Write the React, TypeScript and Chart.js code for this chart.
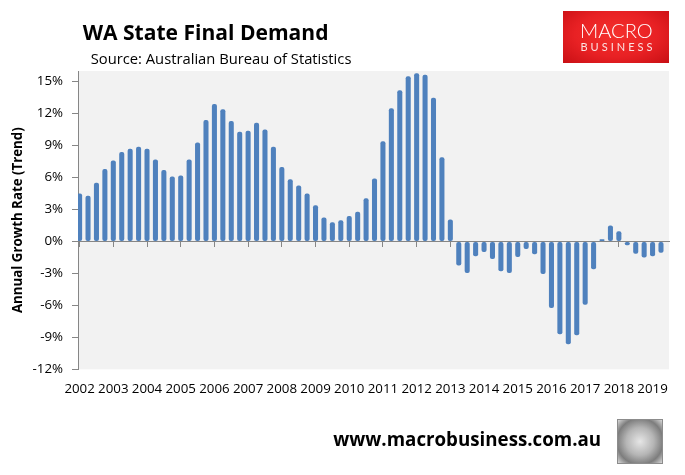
import React, { useEffect, useRef } from 'react';
import { Chart, registerables } from 'chart.js';

Chart.register(...registerables);

// ---------- data ----------
const yearLabels = [
  '2002', '2003', '2004', '2005', '2006', '2007', '2008', '2009', '2010',
  '2011', '2012', '2013', '2014', '2015', '2016', '2017', '2018', '2019',
];

// Annual growth rate (trend), quarterly, Q1 2002 .. Q2 2019
const growthValues = [
  4.5, 4.3, 5.5, 6.8, 7.6, 8.4, 8.7, 8.9, 8.7, 7.7,
  6.7, 6.1, 6.2, 7.7, 9.3, 11.4, 12.9, 12.4, 11.3, 10.3,
  10.4, 11.15, 10.5, 8.9, 7.0, 5.85, 5.25, 4.5, 3.4, 2.25,
  1.8, 2.0, 2.4, 2.8, 4.05, 5.9, 9.4, 12.5, 14.2, 15.5,
  15.8, 15.65, 13.5, 7.9, 2.05, -2.25, -2.95, -1.4, -1.0, -1.65,
  -2.8, -2.95, -1.45, -0.7, -1.2, -3.05, -6.25, -8.7, -9.65, -8.8,
  -5.95, -2.6, 0.2, 1.5, 0.95, -0.35, -1.15, -1.5, -1.4, -1.05,
];

const yTickValues = [-12, -9, -6, -3, 0, 3, 6, 9, 12, 15];

const TITLE = 'WA State Final Demand';
const SUBTITLE = 'Source: Australian Bureau of Statistics';
const Y_TITLE = 'Annual Growth Rate (Trend)';
const WEBSITE = 'www.macrobusiness.com.au';

// ---------- styling ----------
const OPEN = '"Open Sans", "DejaVu Sans", sans-serif';
const LATO = 'Lato, "Open Sans", sans-serif';
const AXIS = '#868686';
const BAR = '#4f81bd';
const PLOT_BG = '#f2f2f2';

let measureCtx: CanvasRenderingContext2D | null = null;
function measure(text: string, font: string): number {
  if (!measureCtx) measureCtx = document.createElement('canvas').getContext('2d');
  measureCtx!.font = font;
  return measureCtx!.measureText(text).width;
}
function fitSize(text: string, weight: string | number, family: string, width: number) {
  return (100 * width) / measure(text, `${weight} 100px ${family}`);
}

type LabelProps = {
  text: string;
  x: number;
  baseline: number;
  width: number;
  weight: string | number;
  family: string;
  color: string;
  size?: number;
};

function Label({ text, x, baseline, width, weight, family, color, size }: LabelProps) {
  let fs = size ?? fitSize(text, weight, family, width);
  let spacing = 0;
  if (size) {
    const natural = measure(text, `${weight} ${size}px ${family}`);
    spacing = (width - natural) / Math.max(1, text.length - 1);
  }
  const top = baseline - 0.888 * fs;
  return (
    <div
      style={{
        position: 'absolute',
        left: x,
        top,
        fontSize: fs,
        lineHeight: `${fs}px`,
        fontFamily: family,
        fontWeight: weight as any,
        color,
        whiteSpace: 'nowrap',
        letterSpacing: spacing ? `${spacing}px` : undefined,
      }}
    >
      {text}
    </div>
  );
}

const plotBackground = {
  id: 'plotBackground',
  beforeDraw(chart: any) {
    const { ctx, chartArea } = chart;
    ctx.save();
    ctx.fillStyle = PLOT_BG;
    ctx.fillRect(chartArea.left, chartArea.top, chartArea.right - chartArea.left, chartArea.bottom - chartArea.top);
    ctx.restore();
  },
};

export default function App() {
  const canvasRef = useRef<HTMLCanvasElement | null>(null);

  useEffect(() => {
    document.body.style.margin = '0';
    const canvas = canvasRef.current;
    if (!canvas) return;

    const xMin = -0.19;
    const xMax = 69.95;
    const yearTicks = yearLabels.map((_, k) => k * 4);
    const tickFont = { family: OPEN, size: 13.3 };
    const yTitleSize = fitSize(Y_TITLE, 'bold', OPEN, 186);

    const chart = new Chart(canvas, {
      type: 'bar',
      data: {
        datasets: [
          {
            data: growthValues.map((v, i) => ({ x: i, y: v })),
            backgroundColor: BAR,
            borderWidth: 0,
            borderRadius: 2,
            borderSkipped: false,
            barPercentage: 1,
            categoryPercentage: 0.6,
            xAxisID: 'x',
            yAxisID: 'y',
          },
        ],
      },
      options: {
        animation: false,
        responsive: false,
        maintainAspectRatio: false,
        devicePixelRatio: 1,
        layout: { padding: { top: 71, right: 16, left: 0, bottom: 0 } },
        plugins: {
          legend: { display: false },
          tooltip: { enabled: false },
          title: { display: false },
        },
        scales: {
          x: {
            type: 'linear',
            position: { y: 0 } as any,
            min: xMin,
            max: xMax,
            offset: false,
            z: 1,
            border: { display: true, color: AXIS, width: 1 },
            grid: { display: true, offset: false, drawOnChartArea: false, drawTicks: true, tickLength: 5, color: AXIS, lineWidth: 1 },
            ticks: { display: false },
            afterBuildTicks: (s: any) => {
              s.ticks = yearTicks.map((v) => ({ value: v }));
            },
          },
          xl: {
            type: 'linear',
            position: 'bottom',
            min: xMin,
            max: xMax,
            offset: false,
            grid: { display: false, drawTicks: false },
            border: { display: false },
            ticks: {
              autoSkip: false,
              maxRotation: 0,
              minRotation: 0,
              padding: 12,
              color: '#000',
              font: tickFont,
              callback: (v: any) => yearLabels[Math.round(Number(v) / 4)] ?? '',
            },
            afterBuildTicks: (s: any) => {
              s.ticks = yearTicks.map((v) => ({ value: v }));
            },
            afterFit: (s: any) => {
              s.height = 105.7;
            },
          },
          y: {
            type: 'linear',
            position: 'left',
            min: -12,
            max: 16,
            border: { display: true, color: AXIS, width: 1 },
            grid: { display: true, drawOnChartArea: false, drawTicks: true, tickLength: 6, color: AXIS, lineWidth: 1 },
            ticks: {
              padding: 9,
              color: '#000',
              font: tickFont,
              autoSkip: false,
              callback: (v: any) => `${v}%`,
            },
            afterBuildTicks: (s: any) => {
              s.ticks = yTickValues.map((v) => ({ value: v }));
            },
            afterFit: (s: any) => {
              s.width = 78;
            },
            title: {
              display: true,
              text: Y_TITLE,
              color: '#000',
              font: { family: OPEN, size: yTitleSize, weight: 'bold' },
              padding: { top: 10, bottom: 0 },
            },
          },
        },
      } as any,
      plugins: [plotBackground],
    });

    return () => chart.destroy();
  }, []);

  return (
    <div style={{ position: 'absolute', left: 0, top: 0, width: 685, height: 475, background: '#fff', overflow: 'hidden' }}>
      <canvas ref={canvasRef} width={685} height={475} style={{ position: 'absolute', left: 0, top: 0, width: 685, height: 475 }} />
      <Label text={TITLE} x={82.7} baseline={40} width={246} weight="bold" family={OPEN} color="#000" />
      <Label text={SUBTITLE} x={90.7} baseline={64} width={261} weight="normal" family={OPEN} color="#000" />
      {/* MacroBusiness logo box */}
      <div
        style={{
          position: 'absolute',
          left: 563,
          top: 11,
          width: 106,
          height: 52,
          background: 'radial-gradient(ellipse at 50% 45%, #f5302c 0%, #e82124 55%, #c80f14 100%)',
        }}
      />
      <Label text="MACRO" x={580} baseline={37.5} width={72.7} weight={300} family={LATO} color="#fff" />
      <Label text="BUSINESS" x={580.5} baseline={50.5} width={72} weight="normal" family={LATO} color="#fbe3e3" size={11} />
      <Label text={WEBSITE} x={333.3} baseline={446.7} width={268} weight="bold" family={OPEN} color="#000" />
      {/* wolf emblem box */}
      <div
        style={{
          position: 'absolute',
          left: 617,
          top: 419,
          width: 44,
          height: 43,
          border: '1px solid #8c8c8c',
          background: 'radial-gradient(circle at 50% 50%, #e6e6e6 0%, #b5b5b5 45%, #7d7d7d 75%, #d8d8d8 100%)',
        }}
      />
    </div>
  );
}
